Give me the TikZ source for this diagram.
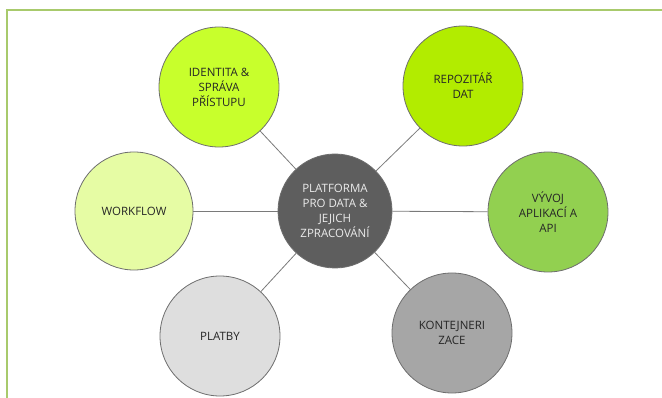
\documentclass[tikz,border=0pt]{standalone}
\usepackage{fontspec}
\setsansfont{Open Sans}
\usetikzlibrary{positioning}
\definecolor{cframe}{HTML}{A8CA6C}
\definecolor{coutline}{HTML}{6E6E6E}
\definecolor{clink}{HTML}{7A7A7A}
\definecolor{ctext}{HTML}{262626}
\definecolor{cident}{HTML}{C8FF2C}
\definecolor{crepo}{HTML}{B2EC00}
\definecolor{cvyvoj}{HTML}{92D050}
\definecolor{cflow}{HTML}{E6FCA4}
\definecolor{cplatby}{HTML}{DEDEDE}
\definecolor{ckont}{HTML}{A6A6A6}
\definecolor{ccore}{HTML}{5E5E5E}
\tikzset{
  every picture/.style={font=\sffamily, line width=0.8pt},
  bubble/.style={circle, draw=coutline, fill=#1, minimum size=120pt, inner sep=0pt, align=center,
    text=ctext, font=\sffamily\fontsize{11.5}{15}\selectfont},
  bubble/.default=cplatby,
  link/.style={draw=clink, line width=0.8pt},
  frameline/.style={draw=cframe, line width=1.6pt},
}

\begin{document}
\begin{tikzpicture}[x=1pt, y=-1pt]
  \useasboundingbox (0,0) rectangle (662,398);
  % frame
  \coordinate (fr1) at (7,398);
  \coordinate (fr2) at (7,10);
  \coordinate (fr3) at (662,10);
  \draw[frameline] (fr1) -- (fr2) -- (fr3);
  % centre
  \node[bubble=ccore, minimum size=114pt, text=white!92!black] (core) at (335,211)
    {PLATFORMA\\PRO DATA \&\\JEJICH\\ZPRACOVÁNÍ};
  % surrounding topics
  \node[bubble=cident] (ident) at (219,87) {IDENTITA \&\\SPRÁVA\\PŘÍSTUPU};
  \node[bubble=crepo] (repo) at (463,86) {REPOZITÁŘ\\DAT};
  \node[bubble=cflow, minimum size=118pt] (flow) at (134,211) {WORKFLOW};
  \node[bubble=cvyvoj] (vyvoj) at (548,212) {VÝVOJ\\APLIKACÍ A\\API};
  \node[bubble=cplatby] (platby) at (220,336) {PLATBY};
  \node[bubble=ckont] (kont) at (452,333) {KONTEJNERI\\ZACE};
  \foreach \n in {ident, repo, flow, vyvoj, platby, kont}
    \draw[link] (core) -- (\n);
\end{tikzpicture}
\end{document}
